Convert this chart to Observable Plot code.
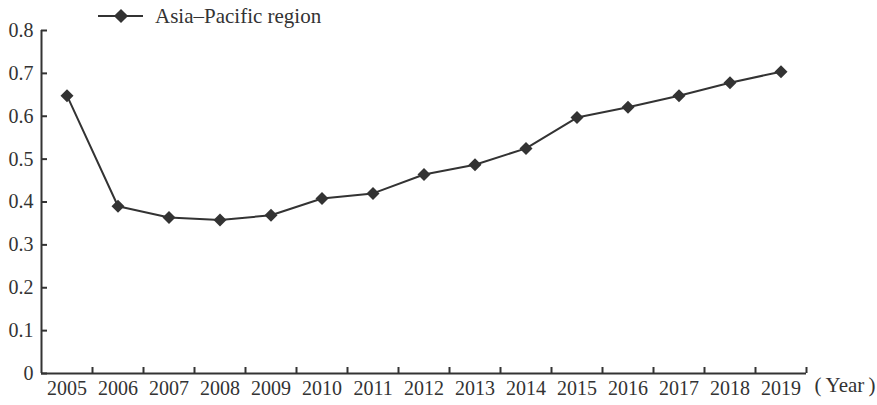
<!DOCTYPE html>
<html>
<head>
<meta charset="utf-8">
<script src="https://cdn.jsdelivr.net/npm/d3@7"></script>
<script src="https://cdn.jsdelivr.net/npm/@observablehq/plot@0.6"></script>
<style>
  html, body { margin: 0; padding: 0; background: #fff; }
  #wrap { position: relative; width: 877px; height: 405px; font-family: "Liberation Serif", "DejaVu Serif", serif; }
  #legend { position: absolute; left: 96px; top: 2px; display: flex; align-items: center; font-size: 21px; color: #333; }
  #legend svg { margin-right: 9px; }
</style>
</head>
<body>
<div id="wrap">
  <div id="chart"></div>
  <div id="legend">
    <svg width="50" height="28"><line x1="2" y1="14" x2="47" y2="14" stroke="#333" stroke-width="2"/><rect x="20" y="9" width="10" height="10" fill="#333" transform="rotate(45 25 14)"/></svg>
    <span>Asia–Pacific region</span>
  </div>
</div>
<script>
const seriesName = "Asia–Pacific region";
const years = [2005, 2006, 2007, 2008, 2009, 2010, 2011, 2012, 2013, 2014, 2015, 2016, 2017, 2018, 2019];
const values = [0.648, 0.390, 0.364, 0.358, 0.369, 0.408, 0.420, 0.464, 0.487, 0.525, 0.597, 0.621, 0.648, 0.678, 0.704];
const yTicks = [0, 0.1, 0.2, 0.3, 0.4, 0.5, 0.6, 0.7, 0.8];
const xUnit = "(\u2009Year\u2009)";

const data = years.map((year, i) => ({year, value: values[i]}));
const boundaries = years.slice(1).map(y => y - 0.5).concat([years[years.length - 1] + 0.5]);
const ink = "#333";

const chart = Plot.plot({
  width: 877,
  height: 405,
  marginLeft: 41,
  marginRight: 71,
  marginTop: 30,
  marginBottom: 32,
  style: {fontFamily: '"Liberation Serif", "DejaVu Serif", serif', fontSize: "20px", color: ink, background: "#fff"},
  x: {type: "linear", domain: [years[0] - 0.5, years[years.length - 1] + 0.5]},
  y: {domain: [0, 0.8]},
  marks: [
    Plot.ruleX([years[0] - 0.5], {stroke: ink, strokeWidth: 2, y1: 0, y2: 0.8}),
    Plot.ruleY([0], {stroke: ink, strokeWidth: 2}),
    Plot.axisY({ticks: yTicks, anchor: "left", tickSize: 6, dx: 6, tickFormat: () => "", stroke: ink, strokeWidth: 2, label: null}),
    Plot.axisY({ticks: yTicks, anchor: "left", tickSize: 0, tickPadding: 8, tickFormat: d => String(d), fill: ink, label: null}),
    Plot.axisX({ticks: boundaries, anchor: "bottom", tickSize: 6, dy: -6, tickFormat: () => "", stroke: ink, strokeWidth: 2, label: null}),
    Plot.axisX({ticks: years, anchor: "bottom", tickSize: 0, tickPadding: 7, tickFormat: d => String(d), fill: ink, label: null}),
    Plot.text([xUnit], {frameAnchor: "bottom-right", dx: 69, dy: 18, textAnchor: "end", fill: ink, fontSize: 21}),
    Plot.line(data, {x: "year", y: "value", stroke: ink, strokeWidth: 2}),
    Plot.dot(data, {x: "year", y: "value", symbol: "square", rotate: 45, r: 5.2, fill: ink, stroke: "none"})
  ]
});
document.getElementById("chart").appendChild(chart);
</script>
</body>
</html>
